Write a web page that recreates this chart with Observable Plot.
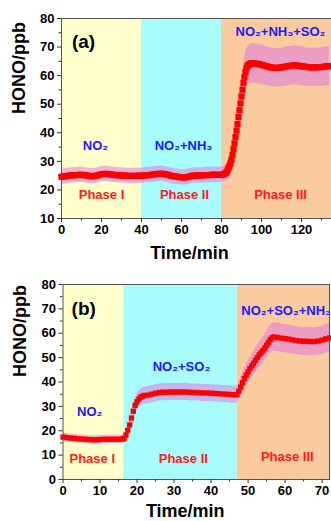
<!DOCTYPE html>
<html><head><meta charset="utf-8">
<script src="https://cdn.jsdelivr.net/npm/d3@7"></script>
<script src="https://cdn.jsdelivr.net/npm/@observablehq/plot@0.6"></script>
<style>
body{margin:0;background:#fff;}
#chart{width:331px;overflow:hidden;}
svg{display:block;}
</style></head><body><div id="chart"></div>
<script>
// ---------- Panel (a) data ----------
const timeA = [0,1,2,3,4,5,6,7,8,9,10,11,12,13,14,15,16,17,18,19,20,21,22,23,24,25,26,27,28,29,30,31,32,33,34,35,36,37,38,39,40,41,42,43,44,45,46,47,48,49,50,51,52,53,54,55,56,57,58,59,60,61,62,63,64,65,66,67,68,69,70,71,72,73,74,75,76,77,78,79,80,81,
82,82.5,83,83.5,84,84.5,85,85.5,86,86.5,87,87.5,88,88.5,89,89.5,90,90.5,91,91.5,92,92.5,93,93.5,94,94.5,95,95.5,96,
97,98,99,100,101,102,103,104,105,106,107,108,109,110,111,112,113,114,115,116,117,118,119,120,121,122,123,124,125,126,127,128,129,130,131,132,133,134];
const honoA = [24.6,24.7,24.8,24.9,25.0,25.1,25.1,25.2,25.2,25.3,25.3,25.2,25.1,25.0,24.9,24.8,24.8,24.9,25.1,25.3,25.5,25.6,25.6,25.6,25.5,25.4,25.3,25.2,25.2,25.1,25.1,25.0,25.0,24.9,24.9,24.9,24.9,24.9,24.9,25.0,25.0,25.0,25.1,25.2,25.2,25.3,25.4,25.5,25.6,25.6,25.7,25.6,25.5,25.3,25.1,24.9,24.8,24.7,24.6,24.5,24.4,24.4,24.4,24.5,24.7,24.9,25.0,25.0,25.1,25.1,25.1,25.1,25.2,25.2,25.2,25.3,25.3,25.3,25.3,25.3,25.3,25.5,
25.8,26.2,26.8,27.6,28.4,29.3,30.6,32.2,34.2,36.3,38.5,40.8,43.1,45.5,47.9,50.3,52.7,55.1,57.5,59.6,61.3,62.6,63.4,63.8,64.0,64.2,64.3,64.3,64.3,
64.2,64.1,64.0,63.8,63.6,63.4,63.2,63.0,62.9,62.8,62.7,62.7,62.8,62.9,63.0,63.2,63.3,63.4,63.5,63.6,63.6,63.5,63.4,63.3,63.2,63.1,63.0,63.0,62.9,62.9,62.9,63.0,63.0,63.0,63.1,63.2,63.3,63.4];
const errA = [2.7,2.7,2.7,2.7,2.7,2.7,2.7,2.7,2.7,2.7,2.7,2.7,2.7,2.7,2.7,2.7,2.7,2.7,2.7,2.7,2.7,2.7,2.7,2.7,2.7,2.7,2.7,2.7,2.7,2.7,2.7,2.7,2.7,2.7,2.7,2.7,2.7,2.7,2.7,2.7,2.7,2.7,2.7,2.7,2.7,2.7,2.7,2.7,2.7,2.7,2.7,2.7,2.7,2.7,2.7,2.7,2.7,2.7,2.7,2.7,2.7,2.7,2.7,2.7,2.7,2.7,2.7,2.7,2.7,2.7,2.7,2.7,2.7,2.7,2.7,2.7,2.7,2.7,2.7,2.7,2.7,2.7,
2.8,2.8,2.9,3.0,3.0,3.1,3.3,3.4,3.7,3.9,4.1,4.4,4.6,4.9,5.1,5.4,5.6,5.9,6.2,6.4,6.6,6.7,6.8,6.8,6.8,6.9,6.9,6.9,6.9,
6.9,6.9,6.9,6.8,6.8,6.8,6.8,6.7,6.7,6.7,6.7,6.7,6.7,6.7,6.7,6.8,6.8,6.8,6.8,6.8,6.8,6.8,6.8,6.8,6.8,6.7,6.7,6.7,6.7,6.7,6.7,6.7,6.7,6.7,6.8,6.8,6.8,6.8];
const phaseStartA = [0, 40, 80];
const phaseEndA = [40, 80, 136];
const phaseLabelXA = [20, 61.5, 109.5];
const phaseLabelYA = [18.2, 18.2, 18.2];
const gasLabelsA = ["NO\u2082", "NO\u2082+NH\u2083", "NO\u2082+NH\u2083+SO\u2082"];
const gasXA = [17, 61, 109.5];
const gasYA = [35.5, 35.5, 75.2];

// ---------- Panel (b) data ----------
const timeB = [0,1,2,3,4,5,6,7,8,9,10,11,12,13,14,15,16,16.5,17,17.5,18,18.5,19,19.5,20,20.5,21,21.5,22,
23,24,25,26,27,28,29,30,31,32,33,34,35,36,37,38,39,40,41,42,43,44,45,46,
46.5,47,47.5,48,48.5,49,49.5,50,50.5,51,51.5,52,52.5,53,53.5,54,54.5,55,55.5,56,56.5,57,
58,59,60,61,62,63,64,65,66,67,68,69,70,71,72];
const honoB = [17.4,17.2,17.0,16.9,16.7,16.6,16.5,16.4,16.3,16.3,16.4,16.5,16.5,16.5,16.5,16.5,16.6,16.8,18.2,20.2,22.4,25.2,28.0,30.4,31.9,33.0,33.8,34.2,34.5,
34.6,35.0,35.4,35.7,35.8,35.8,35.9,35.9,35.9,35.9,35.9,35.8,35.7,35.7,35.6,35.5,35.5,35.4,35.3,35.2,35.1,35.0,34.9,34.8,
34.8,34.9,36.2,37.9,39.7,41.4,42.9,44.2,45.5,46.6,47.7,48.9,50.0,51.1,52.0,52.9,53.9,55.1,56.3,57.4,58.1,58.5,
58.3,58.0,57.8,57.6,57.3,57.0,56.8,56.7,56.7,56.6,56.6,56.8,57.2,57.7,58.1];
const errB = [1.7,1.7,1.7,1.7,1.7,1.7,1.7,1.7,1.7,1.7,1.7,1.7,1.7,1.7,1.7,1.7,1.7,1.7,1.8,2.0,2.2,2.5,2.8,3.0,3.2,3.3,3.4,3.4,3.5,
3.5,3.5,3.5,3.5,3.5,3.5,3.5,3.5,3.5,3.5,3.5,3.5,3.5,3.5,3.5,3.5,3.5,3.5,3.5,3.5,3.5,3.5,3.5,3.5,
3.5,3.5,3.6,3.8,4.0,4.1,4.3,4.4,4.6,4.7,4.8,4.9,5.0,5.1,5.2,5.3,5.4,5.5,5.6,5.7,5.8,5.9,
5.9,5.9,5.8,5.8,5.8,5.7,5.7,5.7,5.7,5.7,5.7,5.7,5.8,5.8,5.9];
const phaseStartB = [0, 16.4, 47.1];
const phaseEndB = [16.4, 47.1, 72];
const phaseLabelXB = [7.9, 32.5, 60.6];
const phaseLabelYB = [8.5, 8.5, 9.2];
const gasLabelsB = ["NO\u2082", "NO\u2082+SO\u2082", "NO\u2082+SO\u2082+NH\u2083"];
const gasXB = [7.2, 32, 60.3];
const gasYB = [27.6, 46.4, 69.3];

const phaseNames = ["Phase I", "Phase II", "Phase III"];
const phaseFill = ["#ffffcc", "#a8fcfc", "#f9cb9f"];

const FONT = "'Liberation Sans', Arial, Helvetica, sans-serif";

function panel(cfg) {
  const series = cfg.time.map((t, i) => ({t, v: cfg.hono[i], e: cfg.err[i]}));
  const phases = cfg.start.map((s, i) => ({s, e: cfg.end[i], fill: phaseFill[i], name: phaseNames[i], lx: cfg.plx[i], ly: cfg.ply[i]}));
  const gas = cfg.gas.map((g, i) => ({g, x: cfg.gx[i], y: cfg.gy[i]}));
  return Plot.plot({
    width: 331, height: cfg.height,
    marginTop: cfg.mt, marginBottom: cfg.mb, marginLeft: cfg.ml, marginRight: cfg.mr,
    x: {domain: cfg.xdom},
    y: {domain: cfg.ydom},
    style: {fontFamily: FONT, fontWeight: "bold", background: "white", color: "black"},
    marks: [
      Plot.rect(phases, {x1: "s", x2: "e", fill: d => d.fill}),
      Plot.areaY(series, {x: "t", y1: d => d.v - d.e, y2: d => d.v + d.e, fill: "#e078e0", fillOpacity: 0.55, curve: "monotone-x"}),
      Plot.dot(series, {x: "t", y: "v", symbol: "square", r: cfg.r, fill: "#ff0000", stroke: "none"}),
      Plot.text(phases, {x: "lx", y: "ly", text: "name", fill: "#ff1a1a", fontSize: 13, fontWeight: "bold", lineAnchor: "middle"}),
      Plot.text(gas, {x: "x", y: "y", text: "g", fill: "#1a1aff", fontSize: 13, fontWeight: "bold", lineAnchor: "middle"}),
      Plot.text([cfg.tag], {x: cfg.tagX, y: cfg.tagY, text: d => d, fontSize: 19, fontWeight: "bold", fill: "black", lineAnchor: "middle"}),
      Plot.frame({stroke: "#555", strokeWidth: 1}),
      Plot.axisX({ticks: cfg.xticks, tickSize: 4, tickPadding: 2, fontSize: 13, label: null, stroke: "#333"}),
      Plot.axisX({ticks: cfg.xminor, tickSize: 2.5, tickFormat: () => "", label: null, stroke: "#333"}),
      Plot.axisY({ticks: cfg.yticks, tickSize: 4, tickPadding: 3, fontSize: 13, label: null, stroke: "#333"}),
      Plot.axisY({ticks: cfg.yminor, tickSize: 2.5, tickFormat: () => "", label: null, stroke: "#333"}),
      Plot.text(["HONO/ppb"], {frameAnchor: "left", text: d => d, rotate: -90, dx: cfg.ylDx, dy: cfg.ylDy, fontSize: 18, fontWeight: "bold", fill: "black", lineAnchor: "middle"}),
      Plot.text(["Time/min"], {frameAnchor: "bottom", text: d => d, dx: cfg.xlDx, dy: cfg.xlDy, fontSize: 18, fontWeight: "bold", fill: "black", lineAnchor: "middle"})
    ]
  });
}

const chart = document.getElementById("chart");
chart.append(panel({
  time: timeA, hono: honoA, err: errA,
  start: phaseStartA, end: phaseEndA, plx: phaseLabelXA, ply: phaseLabelYA,
  gas: gasLabelsA, gx: gasXA, gy: gasYA,
  tag: "(a)", tagX: 11, tagY: 71.8,
  height: 262, mt: 18, mb: 44, ml: 61, mr: 0,
  xdom: [0, 135], ydom: [10, 80],
  xticks: [0, 20, 40, 60, 80, 100, 120], xminor: [10, 30, 50, 70, 90, 110, 130],
  yticks: [10, 20, 30, 40, 50, 60, 70, 80], yminor: [15, 25, 35, 45, 55, 65, 75],
  r: 3.5, ylDx: -42, ylDy: -4.5, xlDx: -7, xlDy: 35
}));
chart.append(panel({
  time: timeB, hono: honoB, err: errB,
  start: phaseStartB, end: phaseEndB, plx: phaseLabelXB, ply: phaseLabelYB,
  gas: gasLabelsB, gx: gasXB, gy: gasYB,
  tag: "(b)", tagX: 5.6, tagY: 70,
  height: 259, mt: 22, mb: 42, ml: 62.5, mr: 2,
  xdom: [0, 72], ydom: [0, 80],
  xticks: [0, 10, 20, 30, 40, 50, 60, 70], xminor: [5, 15, 25, 35, 45, 55, 65],
  yticks: [0, 10, 20, 30, 40, 50, 60, 70, 80], yminor: [5, 15, 25, 35, 45, 55, 65, 75],
  r: 3, ylDx: -43, ylDy: -5, xlDx: -11, xlDy: 32
}));
</script></body></html>
